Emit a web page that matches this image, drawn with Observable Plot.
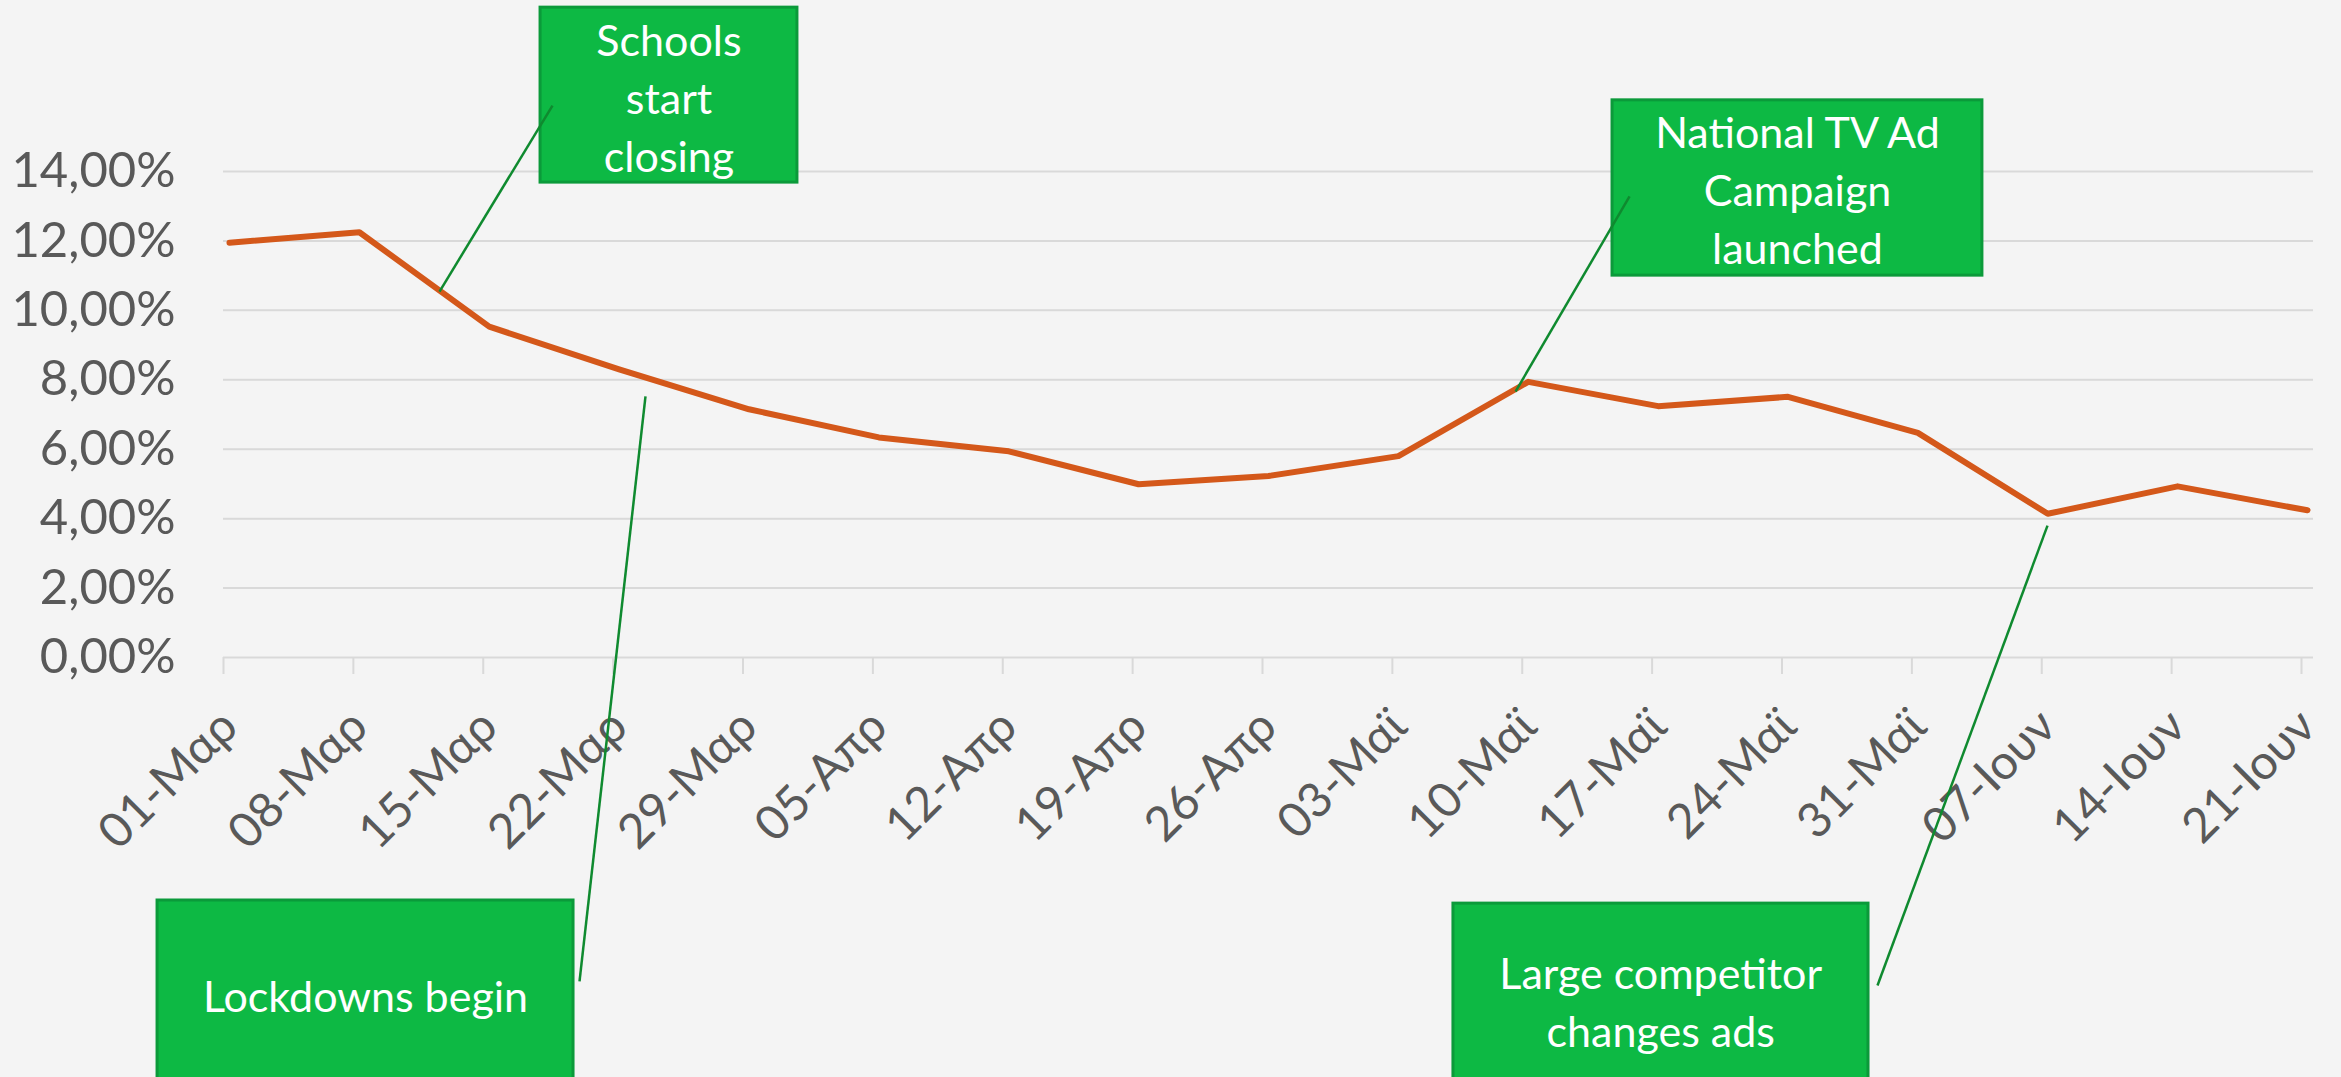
<!DOCTYPE html>
<html>
<head>
<meta charset="utf-8">
<script src="https://cdn.jsdelivr.net/npm/d3@7"></script>
<script src="https://cdn.jsdelivr.net/npm/@observablehq/plot@0.6"></script>
<style>
  html, body { margin: 0; padding: 0; background: #f4f4f4; }
  #chart svg { display: block; }
</style>
</head>
<body>
<div id="chart"></div>
<script>
// ---- data ----
const categories = ["01-Μαρ","08-Μαρ","15-Μαρ","22-Μαρ","29-Μαρ","05-Απρ","12-Απρ","19-Απρ","26-Απρ","03-Μαϊ","10-Μαϊ","17-Μαϊ","24-Μαϊ","31-Μαϊ","07-Ιουν","14-Ιουν","21-Ιουν"];
const values = [0.1195, 0.1225, 0.0953, 0.0830, 0.0715, 0.0634, 0.0594, 0.0499, 0.0523, 0.0580, 0.0794, 0.0724, 0.0751, 0.0647, 0.0414, 0.0493, 0.0424];
const yTicks = [0, 0.02, 0.04, 0.06, 0.08, 0.10, 0.12, 0.14];

// annotations (in data coordinates: category index, value)
const annText = ["Schools\nstart\nclosing", "National TV Ad\nCampaign\nlaunched", "Lockdowns begin", "Large competitor\nchanges ads"];
const annBoxX1 = [2.395, 10.649, -0.554, 9.424];
const annBoxX2 = [4.373, 13.497, 2.649, 12.620];
const annBoxY1 = [0.1872, 0.1605, -0.0700, -0.0709];
const annBoxY2 = [0.1368, 0.1100, -0.1300, -0.1300];
const annTextX = [3.384, 12.073, 1.047, 11.02];
const annTextY = [0.1620, 0.1353, -0.0968, -0.0984];
const annFromX = [2.487, 10.78, 3.203, 13.998];
const annFromY = [0.1590, 0.1328, 0.0752, 0.0380];
const annToX = [1.617, 9.902, 2.695, 12.689];
const annToY = [0.1054, 0.0766, -0.0933, -0.0945];

const series = categories.map((c, i) => ({i, c, v: values[i]}));
const ann = annText.map((t, k) => ({
  t, x1: annBoxX1[k], x2: annBoxX2[k], y1: annBoxY1[k], y2: annBoxY2[k],
  tx: annTextX[k], ty: annTextY[k],
  fx: annFromX[k], fy: annFromY[k], gx: annToX[k], gy: annToY[k]
}));

const pct = d => d3.format(".2f")(d * 100).replace(".", ",") + "%";
const idx = d3.range(categories.length);

const chart = Plot.plot({
  width: 2341,
  height: 1077,
  marginLeft: 223,
  marginRight: 28,
  marginTop: 171,
  marginBottom: 420,
  style: {background: "#f4f4f4", fontFamily: "Lato, 'Open Sans', sans-serif", overflow: "visible"},
  x: {type: "linear", domain: [0, 16], insetLeft: 6, insetRight: 6},
  y: {domain: [0, 0.14]},
  marks: [
    Plot.gridY(yTicks, {stroke: "#d9d9d9", strokeOpacity: 1, strokeWidth: 2}),
    Plot.axisY({ticks: yTicks, tickFormat: pct, tickSize: 0, tickPadding: 48, fontSize: 49, fill: "#595959", label: null}),
    // tick marks
    Plot.axisX({
      ticks: idx, tickFormat: () => "", tickSize: 17, dx: -6,
      stroke: "#d9d9d9", strokeWidth: 2, label: null
    }),
    // tick labels
    Plot.axisX({
      ticks: idx,
      tickFormat: i => categories[i],
      tickSize: 0,
      tickPadding: 61,
      tickRotate: -45,
      textAnchor: "end",
      lineAnchor: "middle",
      fontSize: 48,
      fill: "#595959",
      label: null
    }),
    Plot.line(series, {x: "i", y: "v", stroke: "#d4581a", strokeWidth: 6, strokeLinejoin: "round", strokeLinecap: "round"}),
    Plot.rect(ann, {x1: "x1", x2: "x2", y1: "y1", y2: "y2", fill: "#0db944", stroke: "#0b9a3a", strokeWidth: 3}),
    Plot.link(ann, {x1: "fx", y1: "fy", x2: "gx", y2: "gy", stroke: "#0f8a2f", strokeWidth: 2.5}),
    Plot.text(ann, {x: "tx", y: "ty", text: "t", fill: "white", fontSize: 43, lineHeight: 1.35, lineAnchor: "middle", textAnchor: "middle"})
  ]
});
document.getElementById("chart").appendChild(chart);
</script>
</body>
</html>
